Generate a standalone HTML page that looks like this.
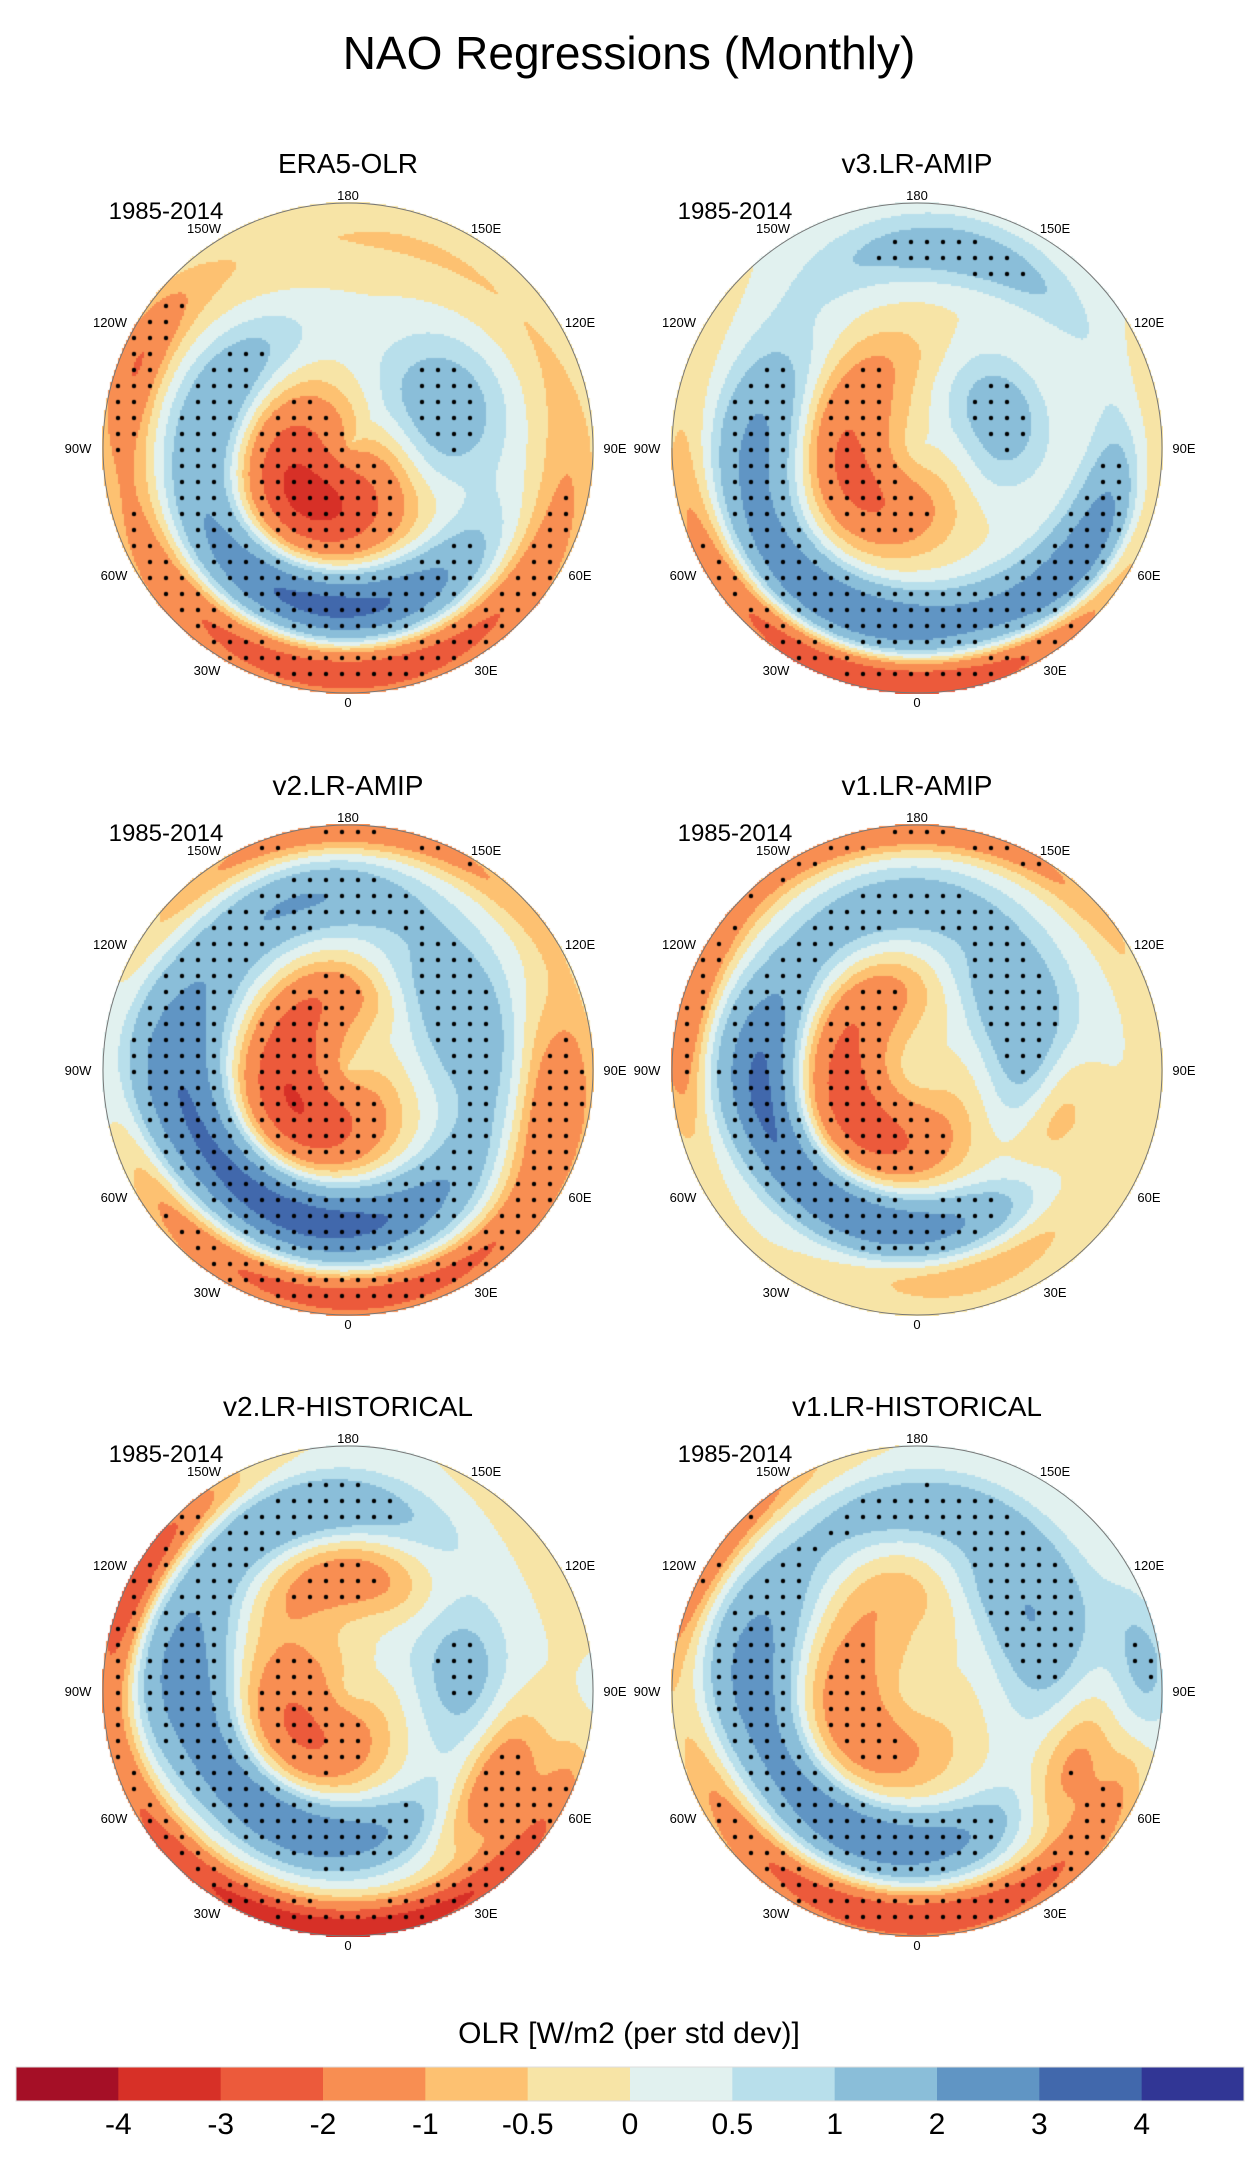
<!DOCTYPE html>
<html><head><meta charset="utf-8">
<style>
html,body{margin:0;padding:0;background:#fff;}
#wrap{position:relative;width:1258px;height:2162px;overflow:hidden;font-family:"Liberation Sans",sans-serif;}
canvas{position:absolute;}
svg{position:absolute;left:0;top:0;}
</style></head>
<body>
<div id="wrap">
<svg id="ov" width="1258" height="2162">
  <text x="629" y="69" font-size="46" text-anchor="middle" font-family="Liberation Sans, sans-serif">NAO Regressions (Monthly)</text>
  <text x="629" y="2043" font-size="30" text-anchor="middle" font-family="Liberation Sans, sans-serif">OLR [W/m2 (per std dev)]</text>
</svg>
</div>
<script>
// Colorbar data
const levels = [-4,-3,-2,-1,-0.5,0,0.5,1,2,3,4];
const levelLabels = ['-4','-3','-2','-1','-0.5','0','0.5','1','2','3','4'];
const colors = ['#a50f26','#d73027','#ec5a3b','#f88e52','#fdc171','#f7e4a6','#e1f1ef','#b8dfeb','#8abed9','#6095c4','#4168ac','#313695'];
// Panels
const panelTitles = ['ERA5-OLR','v3.LR-AMIP','v2.LR-AMIP','v1.LR-AMIP','v2.LR-HISTORICAL','v1.LR-HISTORICAL'];
// blobs: [lon, lat, amplitude, lonSigma(deg lon), latSigma(deg lat)]
const blobsP1 = [[-40,72,-3.4,70,13],[-8,45,3.6,55,8],[0,26,-2.8,55,6],[110,60,1.8,30,12],[-111,53,1.6,30,8],[-113,25,-1.6,15,5],[75,48,-1.0,30,9],[170,30,-0.5,50,8]];
const blobsP2 = [[-59,70,-2.2,60,10],[-141,63,-1.0,45,8],[-25,40,3.0,45,7],[59,33,3.0,25,7],[-4,23,-3.0,50,5],[113,65,1.6,35,10],[165,33,1.6,35,7],[-98,49,1.6,25,10],[101,39,-0.6,40,8]];
const blobsP3 = [[-55,72,-3.0,65,11],[-163,67,-1.5,40,7],[-17,46,3.6,55,8],[3,25,-2.6,50,5],[-92,36,2.0,25,10],[-166,40,2.0,30,7],[180,22,-1.5,40,4],[119,55,1.6,30,12],[80,33,-1.5,20,7]];
const blobsP4 = [[-50,68,-2.6,60,10],[-149,65,-1.2,40,7],[-22,45,3.0,50,7],[114,57,2.0,35,10],[-92,45,2.0,25,10],[-174,42,1.6,35,7],[180,22,-1.6,40,4],[-102,23,-1.6,20,5],[70,48,-1.6,25,7],[14,30,-1.0,25,5]];
const blobsP5 = [[-50,73,-2.2,60,10],[-179,58,-1.6,40,8],[-21,48,3.0,45,7],[-2,22,-3.6,55,5],[-96,41,2.0,25,10],[-166,37,2.0,30,7],[-119,22,-2.6,20,5],[106,58,1.6,30,10],[57,41,-2.0,18,8],[85,22,1.0,15,5]];
const blobsP6 = [[-58,70,-1.6,60,10],[-170,61,-1.0,40,8],[-17,46,3.0,45,7],[-1,25,-3.0,45,5],[-101,41,2.0,25,10],[173,37,1.6,35,7],[125,53,2.0,30,10],[62,42,-1.6,18,8],[-124,19,-2.0,20,5],[95,25,1.5,15,6]];
const panelBlobs = [blobsP1,blobsP2,blobsP3,blobsP4,blobsP5,blobsP6];

const R = 245;
const colX = [348, 917];
const rowY = [448, 1070, 1691];
const SVGNS = 'http://www.w3.org/2000/svg';
const ov = document.getElementById('ov');
const wrap = document.getElementById('wrap');
const D2R = Math.PI/180;

function colorFor(v){ let i=0; while(i<levels.length && v>=levels[i]) i++; return colors[i]; }
function field(blobs, lon, lat){
  let v=0;
  const rp = 90-lat;
  for(const b of blobs){
    const rb = 90-b[1];
    let dl = lon-b[0]; dl = ((dl+540)%360)-180;
    const dt = dl*D2R*(rb+rp)/2;
    const st = b[3]*rb*D2R;
    const dr = rp-rb;
    v += b[2]*Math.exp(-0.5*((dt/st)*(dt/st)+(dr/b[4])*(dr/b[4])));
  }
  return v;
}
function txt(x,y,s,size,anchor,name){
  const t=document.createElementNS(SVGNS,'text');
  t.setAttribute('x',x);t.setAttribute('y',y);t.setAttribute('font-size',size);
  t.setAttribute('text-anchor',anchor);t.setAttribute('font-family','Liberation Sans, sans-serif');
  t.textContent=s;
  
  
  ov.appendChild(t); return t;
}
const lonLabels=[['180',0,-253],['150E',138,-220],['120E',232,-126],['90E',267,0],['60E',232,127],['30E',138,222],['0',0,254],['30W',-141,222],['60W',-234,127],['90W',-270,0],['120W',-238,-126],['150W',-144,-220]];

panelBlobs.forEach((blobs,p)=>{
  const cx=colX[p%2], cy=rowY[Math.floor(p/2)];
  const cv=document.createElement('canvas');
  cv.width=2*R+2; cv.height=2*R+2;
  cv.style.left=(cx-R-1)+'px'; cv.style.top=(cy-R-1)+'px';
  
  
  wrap.insertBefore(cv, ov);
  const ctx=cv.getContext('2d');
  const step=2;
  for(let py=0;py<cv.height;py+=step){
    for(let px=0;px<cv.width;px+=step){
      const dx=px-R, dy=py-R;
      const d=Math.hypot(dx,dy); if(d>R+1) continue;
      const lat=90-d/R*70, lon=Math.atan2(dx,dy)/D2R;
      ctx.fillStyle=colorFor(field(blobs,lon,lat));
      ctx.fillRect(px,py,step,step);
    }
  }
  ctx.fillStyle='#000';
  for(let py=8;py<cv.height;py+=16){
    for(let px=8+((py/16)%2?8:0);px<cv.width;px+=16){
      const dx=px-R-1, dy=py-R-1, d=Math.hypot(dx,dy); if(d>R-4) continue;
      const lat=90-d/R*70, lon=Math.atan2(dx,dy)/D2R;
      if(Math.abs(field(blobs,lon,lat))>1.1){ctx.beginPath();ctx.arc(px,py,2.2,0,7);ctx.fill();}
    }
  }
  const c=document.createElementNS(SVGNS,'circle');
  c.setAttribute('cx',cx);c.setAttribute('cy',cy);c.setAttribute('r',R);
  c.setAttribute('fill','none');c.setAttribute('stroke','#777');c.setAttribute('stroke-width','1');
  
  
  ov.appendChild(c);
  txt(cx, cy-275, panelTitles[p], 28, 'middle', 'panel-title-'+(p+1));
  txt(cx-182, cy-229, '1985-2014', 24, 'middle', 'period-label-'+(p+1));
  lonLabels.forEach(([s,ox,oy])=>{
    txt(cx+ox, cy+oy+5, s, 13, 'middle', 'lon-label-'+s.toLowerCase());
  });
});

// colorbar
const cbX0=16, cbW=1228, cbY=2067, cbH=34, cw=cbW/colors.length;
colors.forEach((col,i)=>{
  const r=document.createElementNS(SVGNS,'rect');
  r.setAttribute('x',cbX0+i*cw);r.setAttribute('y',cbY);r.setAttribute('width',cw+0.5);r.setAttribute('height',cbH);
  r.setAttribute('fill',col);
  
  
  ov.appendChild(r);
});
const fr=document.createElementNS(SVGNS,'rect');
fr.setAttribute('x',cbX0);fr.setAttribute('y',cbY);fr.setAttribute('width',cbW);fr.setAttribute('height',cbH);
fr.setAttribute('fill','none');fr.setAttribute('stroke','#ddd');


ov.appendChild(fr);
levelLabels.forEach((s,i)=>{
  txt((cbX0+(i+1)*cw).toFixed(1), 2134, s, 30, 'middle', 'colorbar-label');
});
</script>
</body></html>
